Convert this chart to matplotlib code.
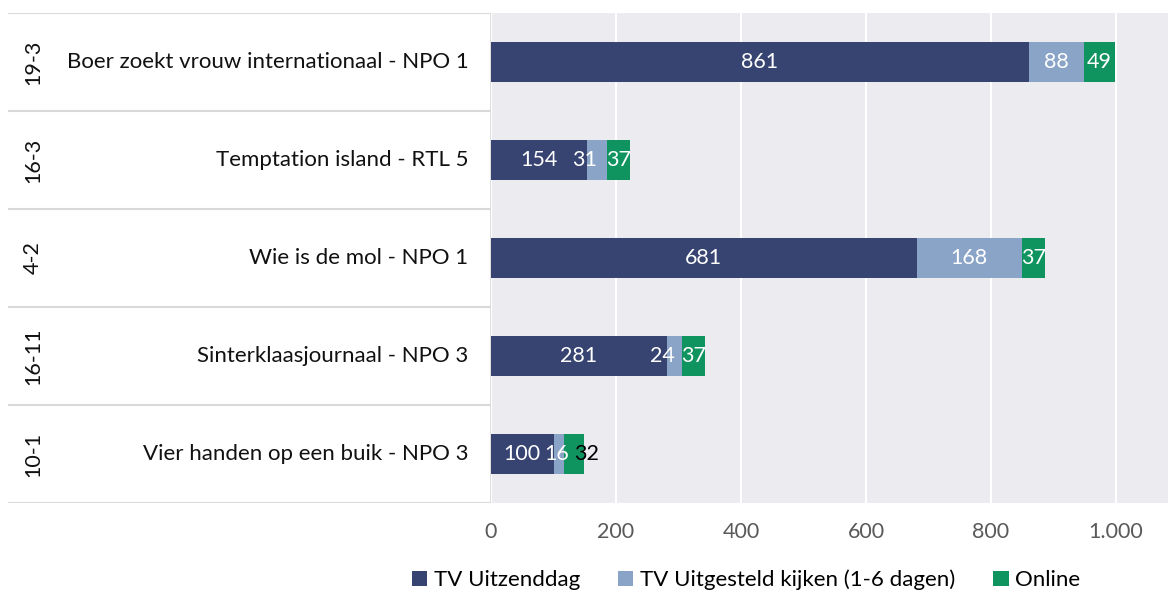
import numpy as np
import matplotlib
matplotlib.use("Agg")
import matplotlib.pyplot as plt
from matplotlib.ticker import FuncFormatter

plt.rcParams["font.family"] = ["Lato", "DejaVu Sans"]

dates = ["19-3", "16-3", "4-2", "16-11", "10-1"]
programs = ["Boer zoekt vrouw internationaal - NPO 1",
            "Temptation island - RTL 5",
            "Wie is de mol - NPO 1",
            "Sinterklaasjournaal - NPO 3",
            "Vier handen op een buik - NPO 3"]
tv_dag = [861, 154, 681, 281, 100]
tv_uitgesteld = [88, 31, 168, 24, 16]
online = [49, 37, 37, 37, 32]

series = ["TV Uitzenddag", "TV Uitgesteld kijken (1-6 dagen)", "Online"]
colors = ["#374471", "#8aa4c8", "#0f935f"]

# label nudges (pixels) for the cramped labels, like in the original
nudge = {(1, 1): -12, (1, 3): -12, (1, 4): -2, (2, 4): 13}

W, H = 1168, 595
fig = plt.figure(figsize=(W/100, H/100), dpi=100)
ax = fig.add_axes([491/W, (H-503)/H, (W-491)/W, 490/H])
tab = fig.add_axes([8/W, (H-503)/H, (491-8)/W, 490/H])

y = np.arange(len(programs))
bh = 0.41
left = np.zeros(len(programs))
for k, (vals, col, name) in enumerate(zip([tv_dag, tv_uitgesteld, online], colors, series)):
    ax.barh(y, vals, left=left, height=bh, color=col, label=name, zorder=3)
    for i, v in enumerate(vals):
        tc = "white"
        if k == 2 and i == 4:
            tc = "black"
        ax.annotate(str(v), (left[i] + v/2, y[i]), xytext=(nudge.get((k, i), 0), 0),
                    textcoords="offset pixels", ha="center", va="center",
                    color=tc, fontsize=15.5, zorder=4)
    left += np.array(vals)

ax.set_facecolor("#ebebf0")
ax.set_xlim(0, (W-491)/0.625)
ax.set_ylim(len(programs)-0.5, -0.5)
ax.set_xticks([0, 200, 400, 600, 800, 1000])
ax.xaxis.set_major_formatter(FuncFormatter(lambda v, p: f"{int(v):,}".replace(",", ".")))
ax.grid(axis="x", color="white", linewidth=1.5, zorder=1)
ax.set_yticks([])
ax.tick_params(axis="x", length=0, pad=14, labelsize=15.5, labelcolor="#595959")
for s in ax.spines.values():
    s.set_visible(False)

# table on the left
tab.set_xlim(0, 1)
tab.set_ylim(len(programs)-0.5, -0.5)
tab.axis("off")
for b in np.arange(-0.5, len(programs), 1):
    tab.axhline(b, color="#d9d9d9", linewidth=1.5)
tab.axvline(1, color="#d9d9d9", linewidth=2)
for i in range(len(programs)):
    tab.text(0.052, y[i], dates[i], rotation=90, ha="center", va="center",
             fontsize=15.5, color="#111111")
    tab.text(0.953, y[i], programs[i], ha="right", va="center",
             fontsize=16, color="#111111")

handles, labels = ax.get_legend_handles_labels()
fig.legend(handles, labels, loc="center", bbox_to_anchor=(746/W, 1-580/H),
           ncol=3, frameon=False, fontsize=16, handlelength=0.7,
           handleheight=0.7, handletextpad=0.3, columnspacing=1.7)

fig.savefig("out.png", dpi=100)
